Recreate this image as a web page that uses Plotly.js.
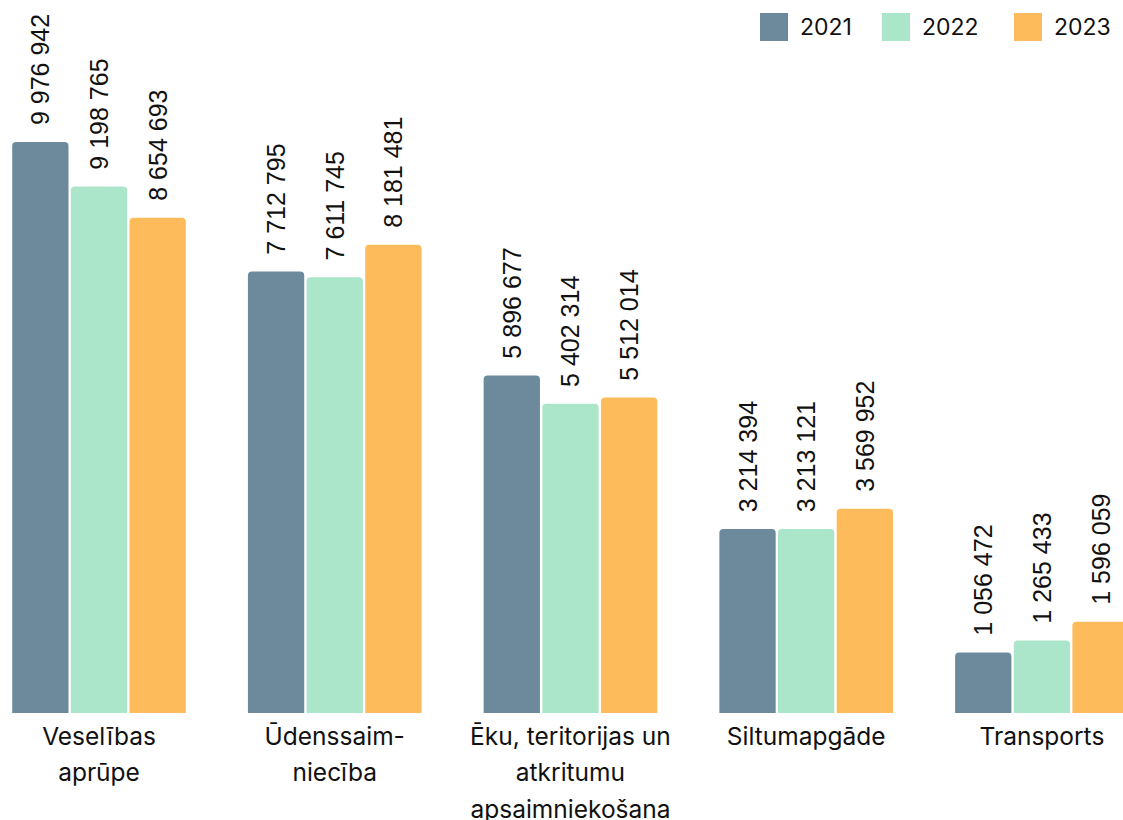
<!DOCTYPE html>
<html>
<head>
<meta charset="utf-8">
<script src="https://cdn.plot.ly/plotly-3.0.1.min.js"></script>
<style>
  html, body { margin: 0; padding: 0; background: #fff; }
  #chart { width: 1123px; height: 820px; }
</style>
</head>
<body>
<div id="chart"></div>
<script>
const categories = [
  'Veselības<br>aprūpe',
  'Ūdenssaim-<br>niecība',
  'Ēku, teritorijas un<br>atkritumu<br>apsaimniekošana',
  'Siltumapgāde',
  'Transports'
];
const years = ['2021', '2022', '2023'];
const values2021 = [9976942, 7712795, 5896677, 3214394, 1056472];
const values2022 = [9198765, 7611745, 5402314, 3213121, 1265433];
const values2023 = [8654693, 8181481, 5512014, 3569952, 1596059];
const colors = ['#6c8a9b', '#ace6ca', '#fdbb5b'];

const series = [values2021, values2022, values2023];
const tickLabels = categories.map(c => c.split('<br>').map(l => '<span style="font-size:24.5px">' + l + '</span>').join('<br>'));

const traces = series.map((vals, i) => ({
  type: 'bar',
  name: years[i],
  x: tickLabels,
  y: vals,
  marker: { color: colors[i], line: { width: 0 }, cornerradius: 4 },
  texttemplate: '\u00a0\u00a0%{y:,}',
  textposition: 'outside',
  textangle: -90,
  constraintext: 'none',
  cliponaxis: false,
  textfont: { family: 'Liberation Sans, Arial, sans-serif', size: 25, color: '#111' },
  hoverinfo: 'none',
  showlegend: false
}));

// manual legend (large rounded squares)
const shapes = [];
const annotations = [];
const legX = [760, 882, 1014];
const W = 1123, PH = 713;
years.forEach((yr, i) => {
  shapes.push({
    type: 'rect', xref: 'paper', yref: 'paper',
    x0: legX[i] / W, x1: (legX[i] + 28) / W,
    y0: 1 - 41 / PH, y1: 1 - 13 / PH,
    fillcolor: colors[i], line: { width: 0 }
  });
  annotations.push({
    xref: 'paper', yref: 'paper',
    x: (legX[i] + 38) / W, y: 1 - 27 / PH,
    xanchor: 'left', yanchor: 'middle',
    text: yr, showarrow: false,
    font: { family: 'Inter, sans-serif', size: 23, color: '#111' }
  });
});

const layout = {
  width: 1123,
  height: 820,
  margin: { l: 0, r: 0, t: 0, b: 107, pad: 0 },
  paper_bgcolor: '#fff',
  plot_bgcolor: '#fff',
  separators: '. ',
  barmode: 'group',
  bargap: 0.2535,
  bargroupgap: 0.04,
  showlegend: false,
  xaxis: {
    type: 'category',
    range: [-0.42, 4.344],
    showgrid: false, zeroline: false, showline: false,
    ticks: '',
    ticklabelstandoff: 3,
    tickangle: 0,
    tickfont: { family: 'Inter, sans-serif', size: 28, color: '#111' },
    fixedrange: true
  },
  yaxis: {
    range: [0, 12458000],
    visible: false,
    showgrid: false, zeroline: false,
    fixedrange: true
  },
  shapes: shapes,
  annotations: annotations
};

Plotly.newPlot('chart', traces, layout, { displayModeBar: false, staticPlot: true });
</script>
</body>
</html>
